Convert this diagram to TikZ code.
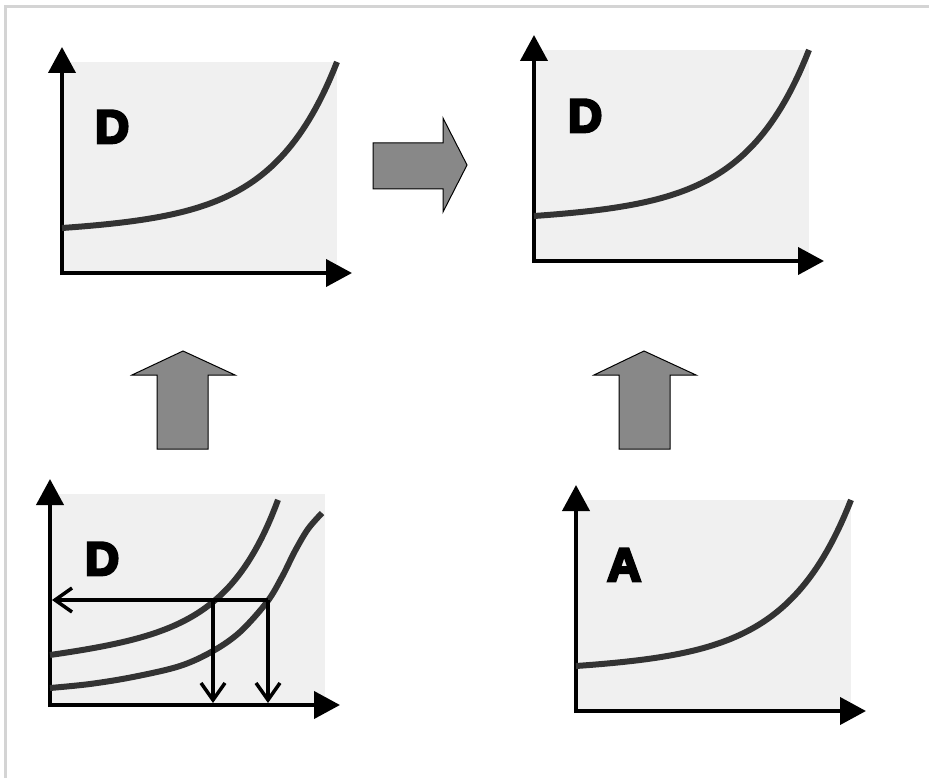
\documentclass[tikz,border=0pt]{standalone}
\usepackage{fontspec}
\newfontfamily\heavyfont[FakeBold=6]{Liberation Sans Bold}
\usetikzlibrary{arrows.meta}
\definecolor{panelfill}{HTML}{F0F0F0}
\definecolor{curvecol}{HTML}{333333}
\definecolor{blockfill}{HTML}{888888}
\definecolor{framecol}{HTML}{D4D4D4}
\tikzset{
  axis/.style={line width=4pt, -{Triangle[length=26pt,width=27pt]}},
  curveline/.style={line width=6pt, draw=curvecol},
  guide/.style={line width=3.5pt, -{Straight Barb[length=17pt,width=24pt,line width=3.5pt]}},
  blockarrow/.style={fill=blockfill, draw=black, line width=1pt, line join=miter},
  letter/.style={font=\heavyfont\fontsize{47}{47}\selectfont, anchor=base west, inner sep=0pt},
  graphpanel/.pic={
    \fill[panelfill] (0,0) rectangle (275,-211);
    \draw[axis] (0,2) -- (0,-226);
    \draw[axis] (-2,0) -- (290,0);
  },
  expcurve/.pic={
    \draw[curveline] plot[domain=0:275, samples=80, variable=\t]
      (\t, {-(45 + 0.04*\t + 1.924*(exp(0.016*\t)-1))});
  }
}
\begin{document}
\begin{tikzpicture}[x=1pt,y=-1pt]
\useasboundingbox (0,0) rectangle (929,778);
% frame
\draw[framecol, line width=3pt] (5,778) -- (5,7) -- (929,7);

% panel 1 (top left)
\coordinate (o1) at (62,273);
\pic at (o1) {graphpanel};
\pic at (o1) {expcurve};
\node[letter] (d1) at (95,143) {D};

% panel 2 (top right)
\coordinate (o2) at (534,261);
\pic at (o2) {graphpanel};
\pic at (o2) {expcurve};
\node[letter] (d2) at (568,132) {D};

% panel 3 (bottom left)
\coordinate (o3) at (50,705);
\pic at (o3) {graphpanel};
\begin{scope}[shift={(o3)}]
  \draw[curveline] plot[domain=0:228, samples=70, variable=\t]
    (\t, {-(50 + 0.1165*\t + 1.358*(exp(0.02*\t)-1))});
  \draw[curveline] plot[smooth, tension=0.55] coordinates
    {(0,-17) (40,-21) (83,-28) (130,-39) (163,-54) (190,-73) (217,-103) (232,-128) (245,-154) (258,-176) (272,-192)};
\end{scope}
\node[letter] (d3) at (85,575) {D};
\coordinate (hstart) at (268,600);
\coordinate (hend) at (52,600);
\coordinate (v1top) at (213,600);
\coordinate (v1bot) at (213,703);
\coordinate (v2bot) at (268,703);
\draw[guide] (hstart) -- (hend);
\draw[guide] (v1top) -- (v1bot);
\draw[guide] (hstart) -- (v2bot);

% panel 4 (bottom right)
\coordinate (o4) at (576,711);
\pic at (o4) {graphpanel};
\pic at (o4) {expcurve};
\node[letter] (a4) at (607,581) {A};

% block arrows
\draw[blockarrow] (373,143) -- (443,143) -- (443,118) -- (467,165) -- (443,212) -- (443,189) -- (373,189) -- cycle;
\draw[blockarrow] (157,449) -- (157,375) -- (132,375) -- (183,351) -- (235,375) -- (208,375) -- (208,449) -- cycle;
\draw[blockarrow] (619,449) -- (619,375) -- (594,375) -- (644,351) -- (696,375) -- (670,375) -- (670,449) -- cycle;
\end{tikzpicture}
\end{document}
